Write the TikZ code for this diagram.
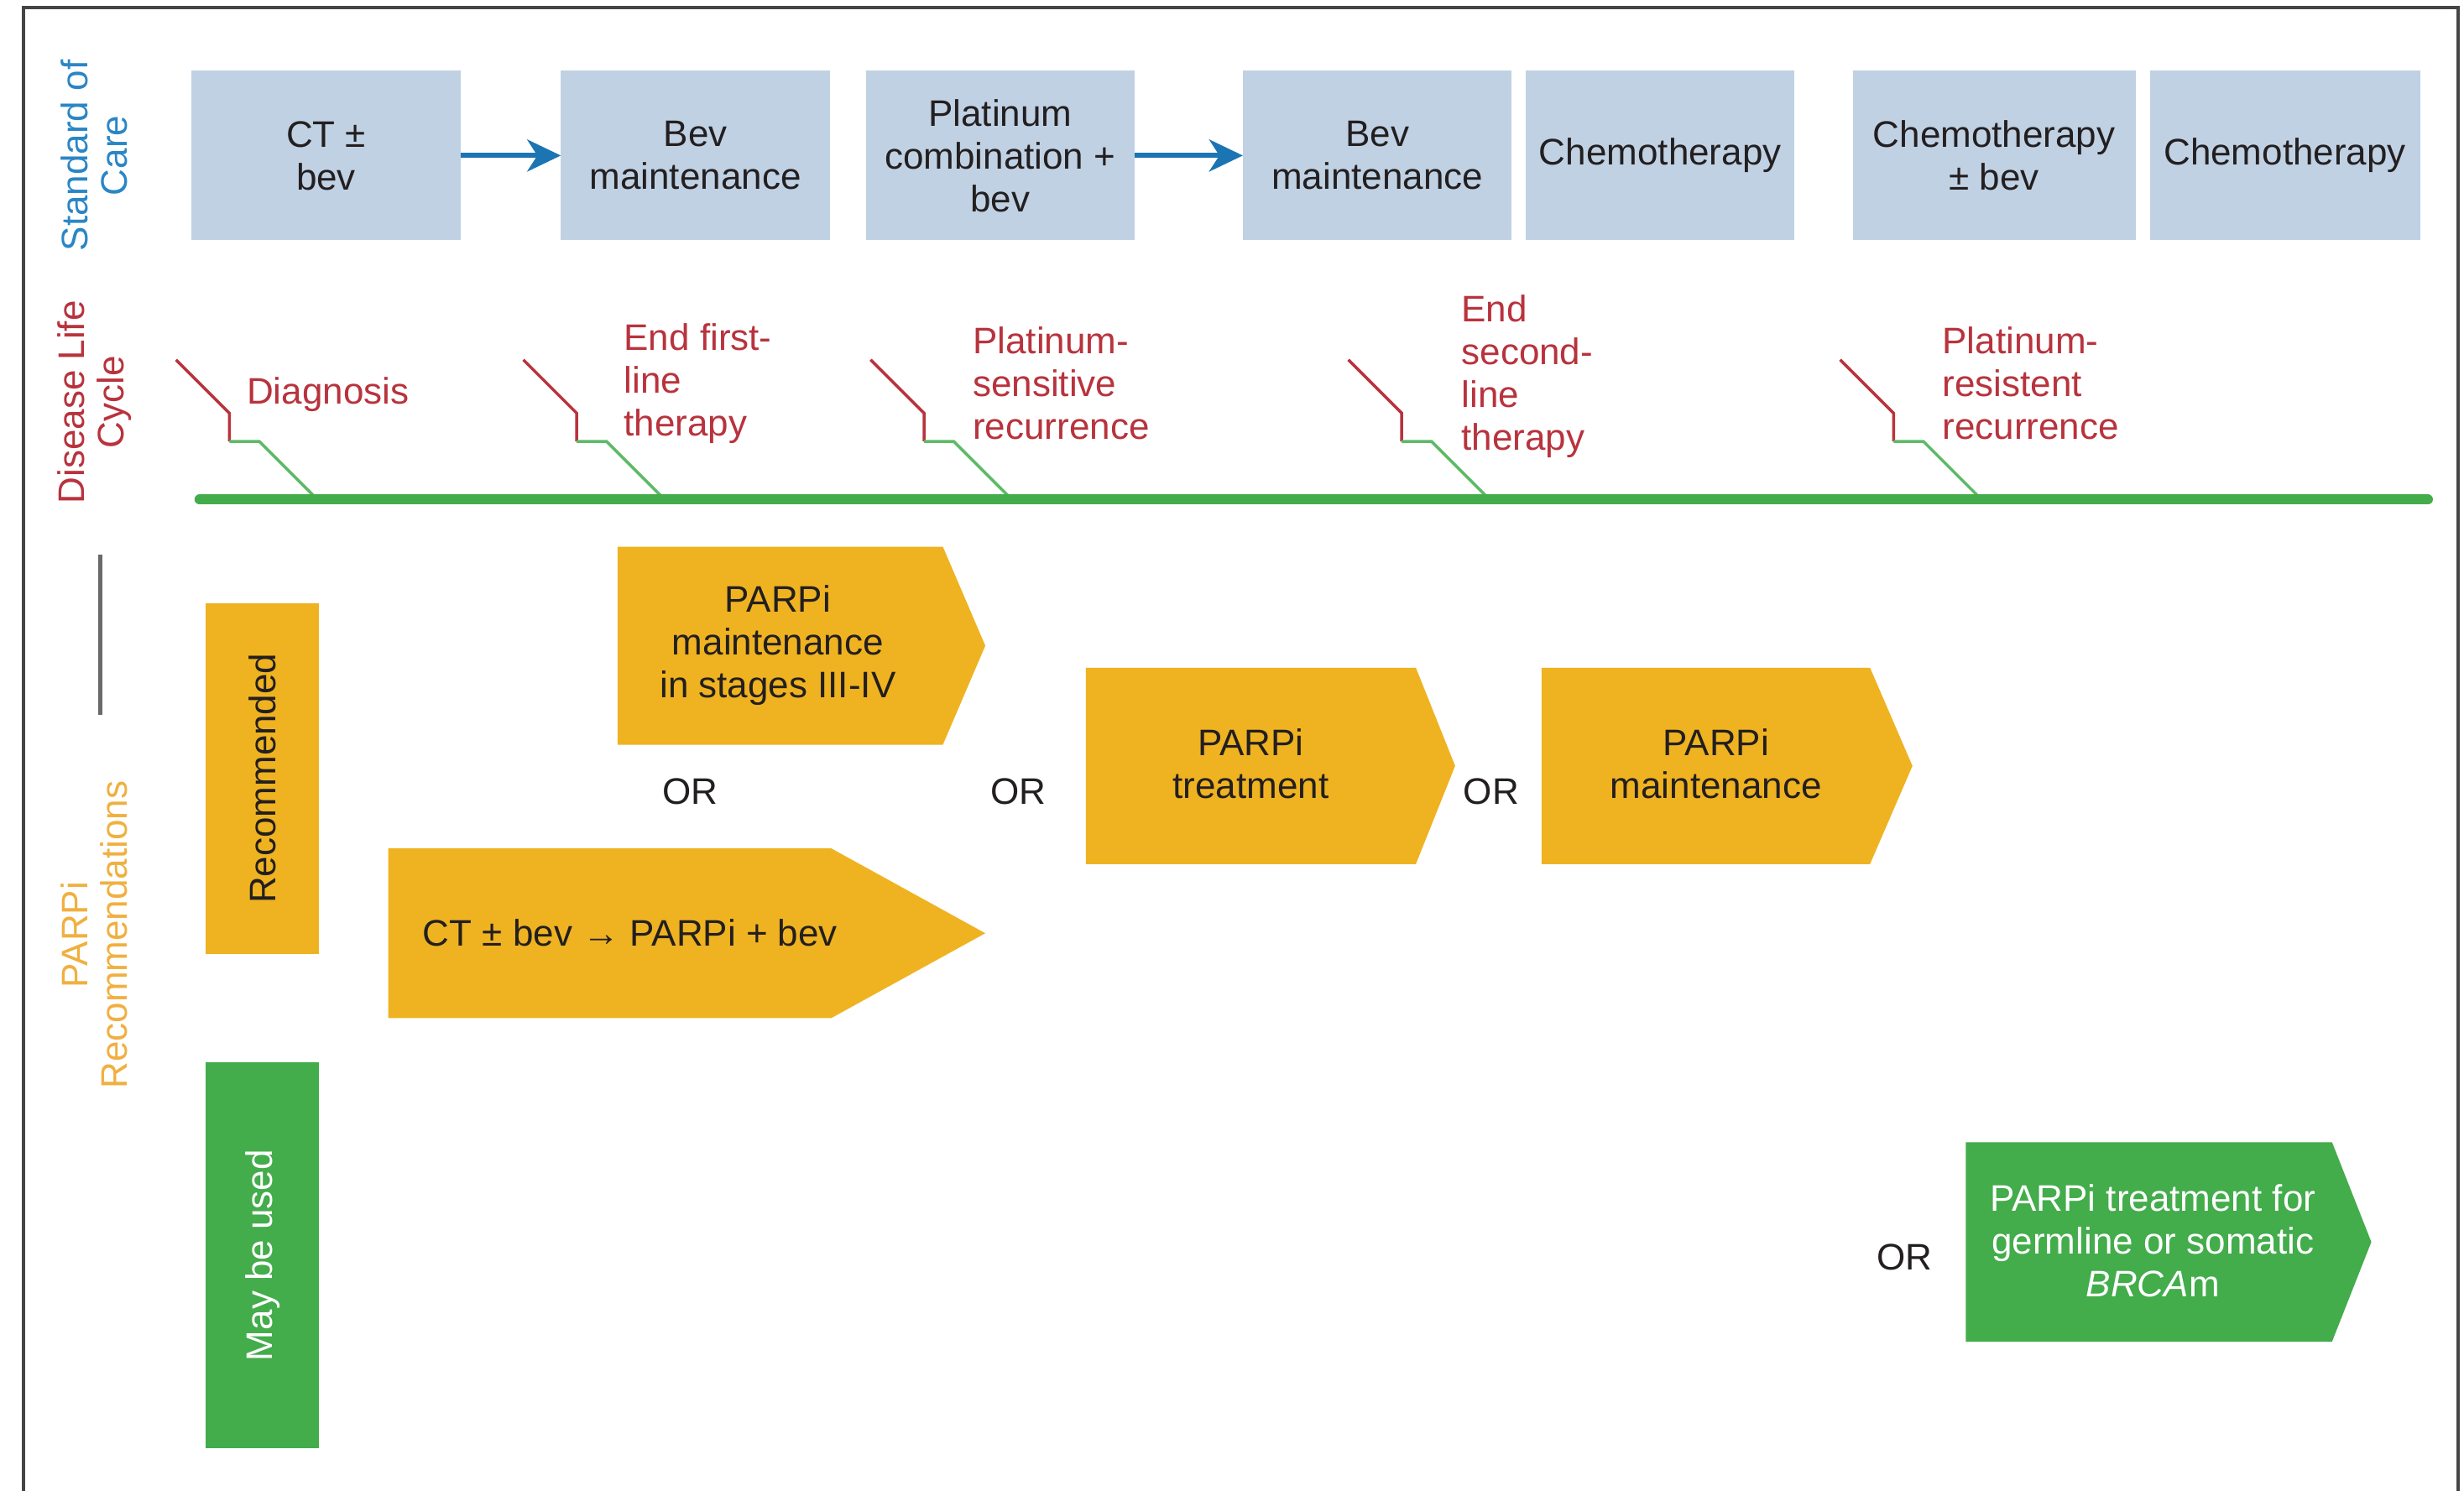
\documentclass[tikz,border=0pt]{standalone}
\usepackage{fontspec}
\setmainfont{Liberation Sans}
\usetikzlibrary{arrows.meta}
\newcommand{\pxu}{1.8724pt}
\definecolor{boxblue}{HTML}{C0D1E3}
\definecolor{arrblue}{HTML}{1B75B3}
\definecolor{lblblue}{HTML}{2A86C5}
\definecolor{dred}{HTML}{B8333D}
\definecolor{lgreen}{HTML}{43AC4B}
\definecolor{mgreen}{HTML}{5DBA66}
\definecolor{porange}{HTML}{EFB321}
\definecolor{lorange}{HTML}{F0B040}
\definecolor{txt}{HTML}{231F20}
\definecolor{framec}{HTML}{454545}
\begin{document}
\begin{tikzpicture}[x=\pxu, y=-\pxu,
  bigfont/.style={font=\fontsize{44}{51}\selectfont},
  socbox/.style={bigfont, fill=boxblue, minimum height=108*\pxu, inner sep=0pt, align=center, text=txt},
  sidelbl/.style={rotate=90, align=center, inner sep=0pt, font=\fontsize{44}{47}\selectfont},
  dlabel/.style={bigfont, text=dred, align=left, anchor=west, inner sep=0pt},
  boxtext/.style={bigfont, text=txt, align=center, inner sep=0pt},
  orlbl/.style={bigfont, text=txt, inner sep=0pt},
  blueflow/.style={arrblue, line width=6pt, -{Stealth[length=40pt,width=38pt,inset=12pt]}},
  redtick/.style={dred, line width=3.5pt},
  greentick/.style={mgreen, line width=3.5pt},
  timeline/.style={lgreen, line width=12pt, line cap=round}
]
\useasboundingbox (0,0) rectangle (1568,949);
\fill[white] (0,0) rectangle (1568,949);
% frame
\draw[framec, line width=4pt] (15,949) -- (15,5) -- (1564,5) -- (1564,949);

% side labels
\node[sidelbl, text=lblblue] (soc) at (60,99) {Standard of\\Care};
\node[sidelbl, text=dred] (dlc) at (60,256) {Disease Life\\Cycle};
\node[sidelbl, text=lorange] (parpr) at (60,595) {PARPi\\Recommendations};
\draw[framec!80, line width=5pt] (64,353) -- (64,455);

% standard of care boxes
\node[socbox, minimum width=171*\pxu] (b1) at (207.5,99) {CT ±\\bev};
\node[socbox, minimum width=171*\pxu] (b2) at (442.5,99) {Bev\\maintenance};
\node[socbox, minimum width=171*\pxu] (b3) at (636.5,99) {Platinum\\combination +\\bev};
\node[socbox, minimum width=171*\pxu] (b4) at (876.5,99) {Bev\\maintenance};
\node[socbox, minimum width=171*\pxu] (b5) at (1056.5,99) {Chemotherapy};
\node[socbox, minimum width=180*\pxu] (b6) at (1269,99) {Chemotherapy\\± bev};
\node[socbox, minimum width=172*\pxu] (b7) at (1454,99) {Chemotherapy};
\draw[blueflow] (b1.east) -- (b2.west);
\draw[blueflow] (b3.east) -- (b4.west);

% disease life cycle markers
\foreach \sx/\nm in {112/ma,333/mb,554/mc,858/md,1171/me}{
  \coordinate (\nm s) at (\sx,229);
  \coordinate (\nm e) at (\sx+90,318);
  \draw[redtick] (\nm s) -- ++(34,34) -- ++(0,18);
  \draw[greentick] (\sx+34,281) -- ++(19,0) -- (\nm e);
}
\coordinate (tl0) at (127,318);
\coordinate (tl1) at (1545,318);
\draw[timeline] (tl0) -- (tl1);

\node[dlabel] (l1) at (157,251) {Diagnosis};
\node[dlabel] (l2) at (397,244) {End first-\\line\\therapy};
\node[dlabel] (l3) at (619,244) {Platinum-\\sensitive\\recurrence};
\node[dlabel] (l4) at (930,239.5) {End\\second-\\line\\therapy};
\node[dlabel] (l5) at (1236,244) {Platinum-\\resistent\\recurrence};

% category boxes
\node[rotate=90, fill=porange, minimum width=223*\pxu, minimum height=72*\pxu, inner sep=0pt, bigfont, text=txt] (rec) at (167,495.5) {Recommended};
\node[rotate=90, fill=lgreen, minimum width=246*\pxu, minimum height=72*\pxu, inner sep=0pt, bigfont, text=white] (may) at (167,799) {May be used};

% PARPi arrow boxes
\fill[porange] (393,348) -- (600,348) -- (627,411) -- (600,474) -- (393,474) -- cycle;
\node[boxtext] (pa) at (495,411) {PARPi\\maintenance\\in stages III-IV};

\fill[porange] (247,540) -- (529,540) -- (627,594) -- (529,648) -- (247,648) -- cycle;
\node[boxtext, anchor=west] (pb) at (269,594) {CT ± bev → PARPi + bev};

\fill[porange] (691,425) -- (901,425) -- (926,487.5) -- (901,550) -- (691,550) -- cycle;
\node[boxtext] (pc) at (796,486) {PARPi\\treatment};

\fill[porange] (981,425) -- (1190,425) -- (1217,487.5) -- (1190,550) -- (981,550) -- cycle;
\node[boxtext] (pd) at (1092,486) {PARPi\\maintenance};

\fill[lgreen] (1251,727) -- (1484,727) -- (1509,790.5) -- (1484,854) -- (1251,854) -- cycle;
\node[boxtext, text=white] (pe) at (1370,790) {PARPi treatment for\\germline or somatic\\\textit{BRCA}m};

% OR labels
\node[orlbl] (or1) at (439,504) {OR};
\node[orlbl] (or2) at (648,504) {OR};
\node[orlbl] (or3) at (949,504) {OR};
\node[orlbl] (or4) at (1212,800) {OR};
\end{tikzpicture}
\end{document}
